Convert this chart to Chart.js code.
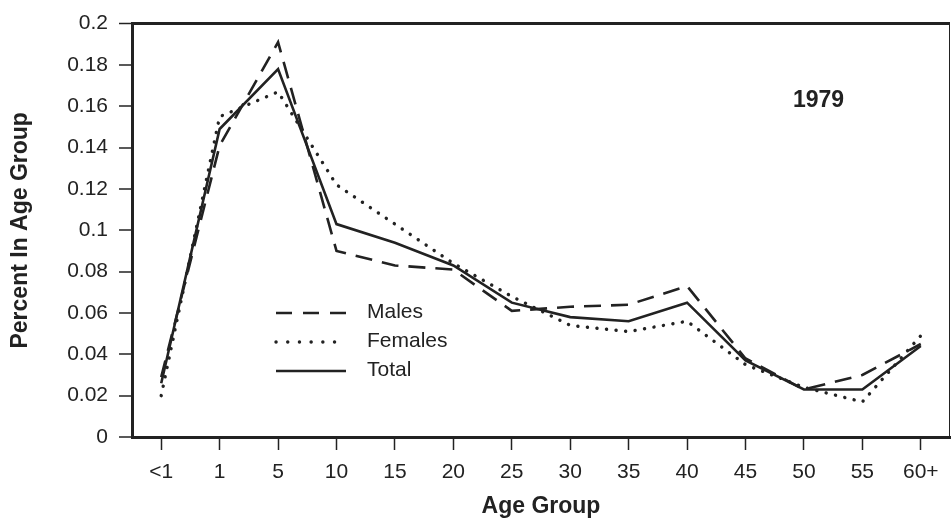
<!DOCTYPE html>
<html>
<head>
<meta charset="utf-8">
<script src="https://cdn.jsdelivr.net/npm/chart.js@4/dist/chart.umd.min.js"></script>
<style>
  html, body { margin: 0; padding: 0; background: #fff; }
  #wrap { width: 951px; height: 520px; position: relative; }
</style>
</head>
<body>
<div id="wrap"><canvas id="c"></canvas></div>
<script>
// age groups on the x axis
const ageGroups = ["<1", "1", "5", "10", "15", "20", "25", "30", "35", "40", "45", "50", "55", "60+"];

// share of cases in each age group, 1979
const males   = [0.029, 0.141, 0.191, 0.090, 0.083, 0.081, 0.061, 0.063, 0.064, 0.073, 0.038, 0.023, 0.030, 0.045];
const females = [0.020, 0.155, 0.167, 0.122, 0.103, 0.084, 0.068, 0.054, 0.051, 0.056, 0.035, 0.024, 0.017, 0.049];
const total   = [0.026, 0.149, 0.178, 0.103, 0.094, 0.083, 0.065, 0.058, 0.056, 0.065, 0.037, 0.023, 0.023, 0.044];

const yearLabel = "1979";
const ink = "#222";
const fontFamily = "'Liberation Sans', Arial, sans-serif";

// legend + year text + right frame edge, drawn inside the plot
const annotations = {
  id: "annotations",
  afterDraw(chart) {
    const { ctx, chartArea } = chart;
    ctx.save();
    ctx.strokeStyle = ink;
    ctx.lineWidth = 1;
    ctx.beginPath();
    ctx.moveTo(chartArea.right - 0.5, chartArea.top);
    ctx.lineTo(chartArea.right - 0.5, chartArea.bottom);
    ctx.stroke();

    ctx.fillStyle = ink;
    ctx.font = "bold 23px " + fontFamily;
    ctx.textBaseline = "middle";
    ctx.fillText(yearLabel, 793, 101);

    const legendDash = [[16, 11], [0.1, 11.6], []];
    const items = chart.data.datasets;
    ctx.font = "21px " + fontFamily;
    items.forEach((ds, i) => {
      const y = 313 + i * 29;
      ctx.beginPath();
      ctx.lineWidth = ds.borderWidth;
      ctx.lineCap = ds.borderCapStyle || "butt";
      ctx.setLineDash(legendDash[i]);
      ctx.moveTo(276, y);
      ctx.lineTo(346, y);
      ctx.stroke();
      ctx.setLineDash([]);
      ctx.fillText(ds.label, 367, y - 1);
    });
    ctx.restore();
  }
};

new Chart(document.getElementById("c"), {
  type: "line",
  data: {
    labels: ageGroups,
    datasets: [
      { label: "Males", data: males, borderColor: ink, borderWidth: 2.6, borderDash: [17, 10], pointRadius: 0, tension: 0 },
      { label: "Females", data: females, borderColor: ink, borderWidth: 3.4, borderDash: [0.1, 9.5], borderCapStyle: "round", pointRadius: 0, tension: 0 },
      { label: "Total", data: total, borderColor: ink, borderWidth: 2.6, pointRadius: 0, tension: 0 }
    ]
  },
  options: {
    responsive: true,
    maintainAspectRatio: false,
    animation: false,
    layout: { padding: { top: 19, right: 1, left: 0, bottom: 0 } },
    plugins: { legend: { display: false }, tooltip: { enabled: false } },
    scales: {
      x: {
        offset: true,
        afterFit: s => { s.height = 83; },
        grid: { display: true, drawOnChartArea: false, offset: false, tickLength: 13, tickColor: ink, tickWidth: 1.5 },
        border: { color: ink, width: 3 },
        ticks: { color: ink, font: { family: fontFamily, size: 21 }, padding: 10, maxRotation: 0, autoSkip: false },
        title: { display: true, text: "Age Group", color: ink, font: { family: fontFamily, size: 23, weight: "bold" }, padding: { top: 0, bottom: 0 } }
      },
      y: {
        min: 0,
        max: 0.2,
        afterFit: s => { s.width = 132; },
        grid: {
          drawOnChartArea: true,
          tickLength: 13,
          tickColor: ink,
          tickWidth: 1.5,
          color: c => (c.tick && Math.abs(c.tick.value - 0.2) < 1e-9) ? ink : "transparent",
          lineWidth: c => (c.tick && Math.abs(c.tick.value - 0.2) < 1e-9) ? 3 : 0
        },
        border: { color: ink, width: 3 },
        ticks: {
          stepSize: 0.02,
          color: ink,
          padding: 11,
          font: { family: fontFamily, size: 21 },
          callback: v => String(+v.toFixed(2))
        },
        title: { display: true, text: "Percent In Age Group", color: ink, font: { family: fontFamily, size: 23, weight: "bold" }, padding: { top: 7, bottom: 0 } }
      }
    }
  },
  plugins: [annotations]
});
</script>
</body>
</html>
